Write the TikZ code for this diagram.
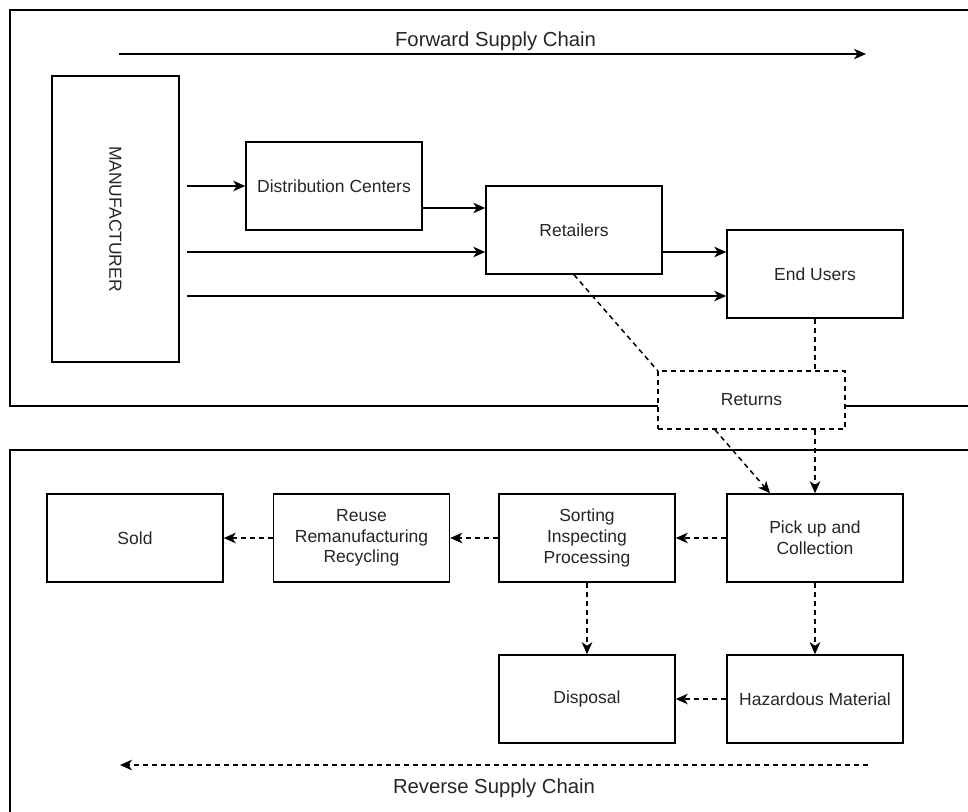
\documentclass[tikz,border=0pt]{standalone}
\usepackage{fontspec}
\setmainfont{Liberation Sans}
\usepackage{graphicx}
\usetikzlibrary{arrows.meta}
\begin{document}
\begin{tikzpicture}[x=1pt,y=-1pt,
  every node/.style={font=\fontsize{17.5pt}{20.7pt}\selectfont, text=black!85},
  box/.style={draw, line width=1.5pt, minimum width=176pt, minimum height=88pt, inner sep=0pt, align=center, fill=white},
  chainlabel/.style={font=\fontsize{20.3pt}{24pt}\selectfont, inner sep=0pt},
  frame/.style={draw, line width=1.5pt},
  conn/.style={line width=1.5pt, -{Stealth[length=12pt,width=10.5pt,inset=3.5pt]}},
  dconn/.style={conn, dash pattern=on 5pt off 4pt},
  dline/.style={line width=1.5pt, dash pattern=on 5pt off 4pt}]
\clip (0,0) rectangle (968,811);
\fill[white] (0,0) rectangle (968,811);
% frames
\draw[frame] (10,10) rectangle (990,406);
\draw[frame] (10,450) rectangle (990,840);
% forward part
\node[box, minimum width=127pt, minimum height=286pt] (manu) at (115.5,219) {\rotatebox{-90}{MANUFACTURER}};
\node[box] (dc) at (334,186) {Distribution Centers};
\node[box] (ret) at (574,230) {Retailers};
\node[box] (eu) at (815,274) {End Users};
\node[box, dash pattern=on 5pt off 4pt, minimum width=187pt, minimum height=58pt] (returns) at (751.5,400) {Returns};
% reverse part
\node[box] (sold) at (135,538) {Sold};
\node[box] (reuse) at (361.5,538) {Reuse\\Remanufacturing\\Recycling};
\node[box] (sort) at (587,538) {Sorting\\Inspecting\\Processing};
\node[box] (pick) at (815,538) {Pick up and\\Collection};
\node[box] (disp) at (587,699) {Disposal};
\node[box] (haz) at (815,699) {Hazardous Material};
% forward arrows
\coordinate (m1) at ([xshift=7pt]manu.east);
\coordinate (a1) at ([yshift=-22pt]dc.east);
\coordinate (r1) at ([yshift=-22pt]ret.west);
\coordinate (r2) at ([yshift=-22pt]ret.east);
\coordinate (e1) at ([yshift=-22pt]eu.west);
\draw[conn] (m1 |- dc.west) -- (dc.west);
\draw[conn] (a1) -- (a1 -| ret.west);
\draw[conn] (m1 |- r1) -- (r1);
\draw[conn] (r2) -- (r2 -| eu.west);
\draw[conn] (m1 |- e1) -- (e1);
% returns
\draw[dline] (ret.south) -- (returns.north west);
\draw[dline] (eu.south) -- (eu.south |- returns.north);
\draw[dconn] ([xshift=-36.5pt]returns.south) -- ([xshift=-45pt]pick.north);
\draw[dconn] (eu.south |- returns.south) -- (pick.north);
% reverse arrows
\draw[dconn] (pick.west) -- (sort.east);
\draw[dconn] (sort.west) -- (reuse.east);
\draw[dconn] (reuse.west) -- (sold.east);
\draw[dconn] (sort.south) -- (disp.north);
\draw[dconn] (pick.south) -- (haz.north);
\draw[dconn] (haz.west) -- (disp.east);
% supply chain labels
\coordinate (f1) at (119,54);
\coordinate (f2) at (866,54);
\draw[conn] (f1) -- (f2);
\node[chainlabel] (fwd) at (495.5,41.5) {Forward Supply Chain};
\coordinate (b1) at (868,765);
\coordinate (b2) at (120,765);
\draw[dconn] (b1) -- (b2);
\node[chainlabel] (rev) at (494,788.5) {Reverse Supply Chain};
\end{tikzpicture}
\end{document}
